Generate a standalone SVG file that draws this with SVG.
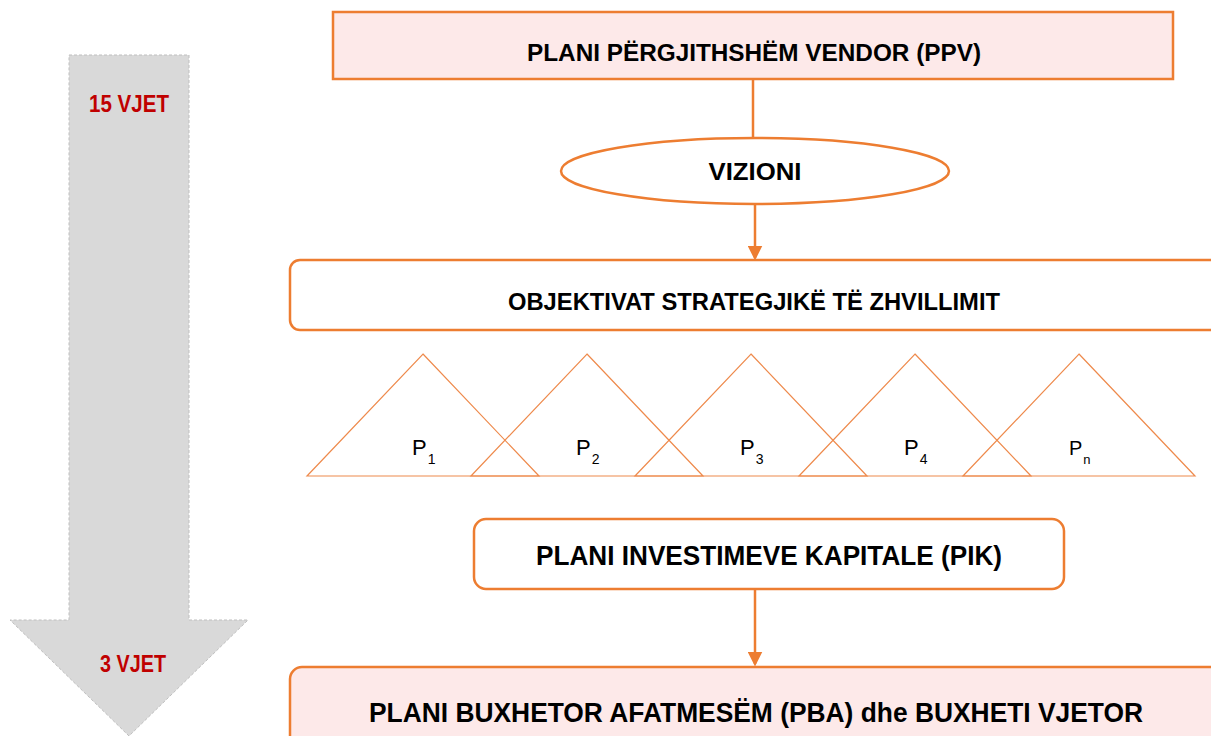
<svg xmlns="http://www.w3.org/2000/svg" width="1211" height="736" viewBox="0 0 1211 736">
  <style>
    .box { stroke: #ed7d31; stroke-width: 2.5; }
    .pink { fill: #fde9e9; }
    .white { fill: #ffffff; }
    .title { font-family: "Liberation Sans", Arial, sans-serif; font-weight: bold; fill: #000000; text-anchor: middle; }
    .years { font-family: "Liberation Sans", Arial, sans-serif; font-weight: bold; fill: #c00000; text-anchor: middle; }
    .tri { fill: none; stroke: #ee8a4c; stroke-width: 1.2; }
    .plabel { font-family: "Liberation Sans", Arial, sans-serif; fill: #000000; }
    .conn { stroke: #ed7d31; stroke-width: 2.5; fill: none; }
  </style>
  <defs>
    <marker id="arrow" markerWidth="6" markerHeight="6" refX="5" refY="3" orient="auto" markerUnits="strokeWidth">
      <path d="M0,0 L6,3 L0,6 Z" fill="#ed7d31"/>
    </marker>
  </defs>

  <rect width="1211" height="736" fill="#ffffff"/>

  <!-- timeline arrow -->
  <g id="timeline">
    <path d="M69,55 L189,55 L189,620 L248,620 L129,736 L10,620 L69,620 Z" fill="#d9d9d9" stroke="#bfbfbf" stroke-width="1" stroke-dasharray="3,2"/>
    <text class="years" x="129" y="112" font-size="24" textLength="80" lengthAdjust="spacingAndGlyphs">15 VJET</text>
    <text class="years" x="133" y="672" font-size="24" textLength="66" lengthAdjust="spacingAndGlyphs">3 VJET</text>
  </g>

  <!-- connectors -->
  <g id="connectors">
    <line class="conn" x1="753" y1="80" x2="753" y2="138"/>
    <line class="conn" x1="755" y1="205" x2="755" y2="258" marker-end="url(#arrow)"/>
    <line class="conn" x1="755" y1="590" x2="755" y2="664" marker-end="url(#arrow)"/>
  </g>

  <g id="ppv">
    <rect class="box pink" x="333" y="12" width="840" height="67"/>
    <text class="title" x="754" y="61" font-size="24" textLength="454" lengthAdjust="spacingAndGlyphs">PLANI PËRGJITHSHËM VENDOR (PPV)</text>
  </g>

  <g id="vizioni">
    <ellipse class="box white" cx="755" cy="171" rx="194" ry="33" stroke-width="2"/>
    <text class="title" x="755" y="180" font-size="24" textLength="93" lengthAdjust="spacingAndGlyphs">VIZIONI</text>
  </g>

  <g id="objektivat">
    <rect class="box white" x="290" y="260" width="935" height="70" rx="10"/>
    <text class="title" x="754" y="310" font-size="24" textLength="492" lengthAdjust="spacingAndGlyphs">OBJEKTIVAT STRATEGJIKË TË ZHVILLIMIT</text>
  </g>

  <!-- programme triangles -->
  <g id="programs">
    <polygon class="tri" points="423,354 539,476 307,476"/>
    <polygon class="tri" points="587,354 703,476 471,476"/>
    <polygon class="tri" points="751,354 867,476 635,476"/>
    <polygon class="tri" points="915,354 1031,476 799,476"/>
    <polygon class="tri" points="1079,354 1195,476 963,476"/>
    <text class="plabel" x="412" y="455" font-size="22">P<tspan font-size="14" dx="1" dy="9">1</tspan></text>
    <text class="plabel" x="576" y="455" font-size="22">P<tspan font-size="14" dx="1" dy="9">2</tspan></text>
    <text class="plabel" x="740" y="455" font-size="22">P<tspan font-size="14" dx="1" dy="9">3</tspan></text>
    <text class="plabel" x="904" y="455" font-size="22">P<tspan font-size="14" dx="1" dy="9">4</tspan></text>
    <text class="plabel" x="1069" y="455" font-size="20">P<tspan font-size="13" dx="1" dy="9">n</tspan></text>
  </g>

  <g id="pik">
    <rect class="box white" x="474" y="519" width="590" height="70" rx="12"/>
    <text class="title" x="769" y="565" font-size="27" textLength="466" lengthAdjust="spacingAndGlyphs">PLANI INVESTIMEVE KAPITALE (PIK)</text>
  </g>

  <g id="pba">
    <rect class="box pink" x="290" y="667" width="935" height="85" rx="12"/>
    <text class="title" x="756" y="722" font-size="27" textLength="774" lengthAdjust="spacingAndGlyphs">PLANI BUXHETOR AFATMESËM (PBA) dhe BUXHETI VJETOR</text>
  </g>
</svg>
